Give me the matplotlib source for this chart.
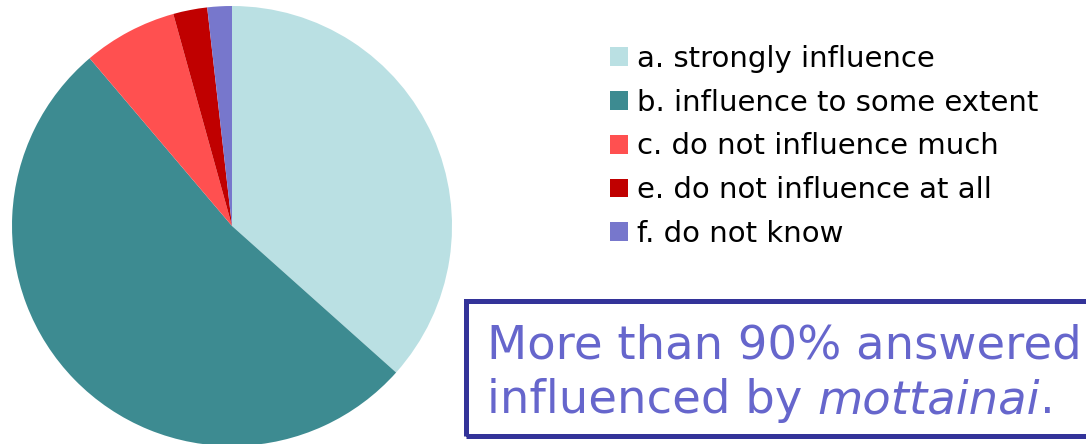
import matplotlib.pyplot as plt
from matplotlib.patches import Rectangle

# survey answers (percent)
labels = ['a. strongly influence', 'b. influence to some extent',
          'c. do not influence much', 'e. do not influence at all',
          'f. do not know']
shares = [36.6, 52.2, 6.9, 2.5, 1.8]
colors = ['#BAE0E3', '#3D8B91', '#FF5050', '#C00000', '#7777CC']

W, H = 1086, 444
fig = plt.figure(figsize=(W / 100, H / 100), dpi=100)

# pie area in pixels (left, top, size)
px, py, ps = 12, 6, 440
ax = fig.add_axes([px / W, 1 - (py + ps) / H, ps / W, ps / H])
wedges, _ = ax.pie(shares, colors=colors, startangle=90, counterclock=False,
                   radius=1.0, wedgeprops=dict(linewidth=0))
ax.set_xlim(-1, 1)
ax.set_ylim(-1, 1)
ax.set_aspect('equal')
ax.axis('off')

fig.legend(wedges, labels, loc='upper left', bbox_to_anchor=(610 / W, 1 - 45 / H),
           frameon=False, fontsize=21, handlelength=0.62, handleheight=0.62,
           handletextpad=0.3, labelspacing=0.54, borderaxespad=0, borderpad=0)

# boxed remark
box = Rectangle((465.5 / W, 1 - 435.5 / H), 700 / W, 134.5 / H,
                transform=fig.transFigure, fill=False, edgecolor='#333399',
                linewidth=3.6, clip_on=False)
fig.add_artist(box)

txt_color = '#6666CC'
fs = 33.5
fig.text(487 / W, 1 - 358 / H, 'More than 90% answered', color=txt_color,
         fontsize=fs, va='baseline')
t1 = fig.text(487 / W, 1 - 413 / H, 'influenced by ', color=txt_color,
              fontsize=fs, va='baseline')
fig.canvas.draw()
r = fig.canvas.get_renderer()
x2 = t1.get_window_extent(r).x1 / W
t2 = fig.text(x2, 1 - 413 / H, 'mottainai', color=txt_color, fontsize=fs,
              style='italic', va='baseline')
fig.canvas.draw()
x3 = t2.get_window_extent(r).x1 / W
fig.text(x3, 1 - 413 / H, '.', color=txt_color, fontsize=fs, va='baseline')

fig.savefig('out.png', dpi=100)
